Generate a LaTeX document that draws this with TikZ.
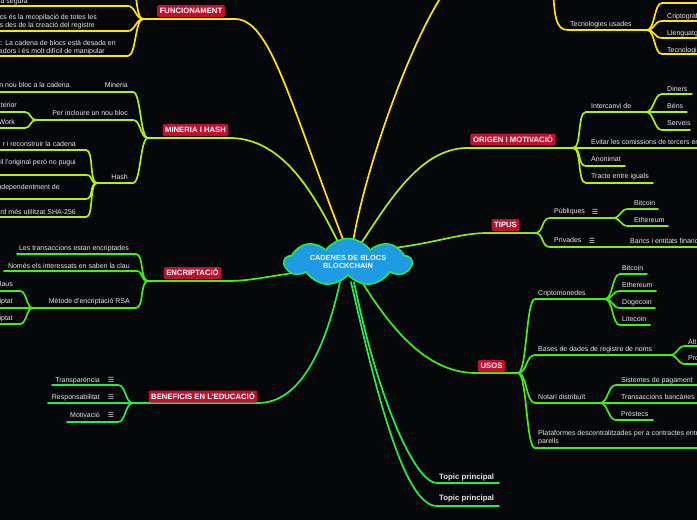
\documentclass[tikz,border=0pt]{standalone}
\usepackage{fontspec}
\setmainfont{Liberation Sans}
\newfontfamily\symfont{DejaVu Sans}
\usetikzlibrary{shapes.symbols,calc}
\definecolor{bgc}{HTML}{050608}
\definecolor{yel}{HTML}{FFE600}
\definecolor{lime}{HTML}{B4EE14}
\definecolor{limeb}{HTML}{88E61A}
\definecolor{grn}{HTML}{44EE12}
\definecolor{grnb}{HTML}{22EE4C}
\definecolor{lblred}{HTML}{C01030}
\definecolor{cloudblue}{HTML}{1E9BE2}
\definecolor{txtc}{HTML}{E8E8E8}
\pgfdeclarelayer{back}
\pgfdeclarelayer{links}
\pgfsetlayers{back,links,main}
\tikzset{
  txtn/.style={inner sep=0pt, text=txtc, font=\fontsize{7}{8.4}\selectfont},
  rt/.style={txtn, anchor=base west},
  lt/.style={txtn, anchor=base east},
  tpc/.style={inner sep=0pt, text=txtc, anchor=base west, font=\bfseries\fontsize{7.8}{9}\selectfont},
  lbl/.style={fill=lblred, rounded corners=1.5pt, text=white, font=\bfseries\fontsize{7.7}{9}\selectfont,
    inner xsep=2.6pt, inner ysep=3.2pt, text height=5.6pt, text depth=0pt},
  icon/.style={inner sep=0pt, text=txtc, font=\symfont\fontsize{7}{8}\selectfont},
  con/.style={line width=1.7pt, line cap=round},
  rc/.style={to path={.. controls +(#1,0) and +(-#1,0) .. (\tikztotarget)}},
  rc/.default=8,
  lc/.style={to path={.. controls +(-#1,0) and +(#1,0) .. (\tikztotarget)}},
  lc/.default=8,
}
\begin{document}
\begin{tikzpicture}[x=1pt,y=-1pt]
\useasboundingbox (0,0) rectangle (697,520);
\begin{pgfonlayer}{back}
\fill[bgc] (-10,-10) rectangle (710,530);
\end{pgfonlayer}

% ---------- central idea ----------
\node[cloud, cloud puffs=9, cloud puff arc=110, cloud ignores aspect, draw=grnb, fill=cloudblue, line width=1.5pt,
  minimum width=127pt, minimum height=47pt, inner sep=0pt, text=white,
  font=\bfseries\fontsize{7.4}{8.4}\selectfont, align=center] (root) at (348,262) {CADENES DE BLOCS\\BLOCKCHAIN};

% ---------- labels ----------
\node[lbl] (fun) at (191,11) {FUNCIONAMENT};
\node[lbl] (min) at (195.5,130) {MINERIA I HASH};
\node[lbl] (enc) at (192.5,273) {ENCRIPTACIÓ};
\node[lbl] (ben) at (203,396.5) {BENEFICIS EN L'EDUCACIÓ};
\node[lbl] (ori) at (513,139.5) {ORIGEN I MOTIVACIÓ};
\node[lbl] (tip) at (505.5,225) {TIPUS};
\node[lbl] (uso) at (491.5,366) {USOS};

% ---------- coordinates ----------
\coordinate (fuE) at (235,19);  \coordinate (fuB) at (143,19);
\coordinate (fu0) at (130,-16); \coordinate (fu1) at (128,6);
\coordinate (fu2) at (128,31);  \coordinate (fu3) at (128,56);
\coordinate (topT) at (447,-12);
\coordinate (teB) at (553,-30); \coordinate (te1) at (568,30); \coordinate (teE) at (647,30);
\coordinate (orS) at (465,148); \coordinate (orB) at (573,148);
\coordinate (intS) at (586,112); \coordinate (intB) at (646,112);
\coordinate (tiS) at (488,233); \coordinate (tiB) at (535,233);
\coordinate (pubS) at (550,218); \coordinate (pubB) at (613,218);
\coordinate (priS) at (550,247);
\coordinate (usS) at (476,373); \coordinate (usB) at (518,373);
\coordinate (criS) at (535,299); \coordinate (criB) at (605,299);
\coordinate (basS) at (535,355); \coordinate (basB) at (670,355);
\coordinate (notS) at (535,403); \coordinate (notB) at (600,403);
\coordinate (plaS) at (535,448);
\coordinate (tp1S) at (437,483); \coordinate (tp1E) at (499,483);
\coordinate (tp2S) at (437,506); \coordinate (tp2E) at (499,506);
\coordinate (beS) at (258,403); \coordinate (beB) at (133,403);
\coordinate (enS) at (228,281); \coordinate (enB) at (148,281);
\coordinate (rsaS) at (136,308); \coordinate (rsaB) at (33,308);
\coordinate (miS) at (232,138); \coordinate (miB) at (148,138);
\coordinate (mnS) at (133,92);
\coordinate (perS) at (133,120); \coordinate (perB) at (36,120);
\coordinate (haS) at (133,183); \coordinate (haB) at (97,183);

% ---------- connectors ----------
\begin{pgfonlayer}{links}
% FUNCIONAMENT
\draw[con,yel] ($(root)+(-4,-20)$) .. controls (289,100) and (270,19) .. (fuE) -- (fuB);
\draw[con,yel] (fuB) to[lc=8] (fu0) -- ++(-140,0);
\draw[con,yel] (fuB) to[lc=7] (fu1) -- ++(-140,0);
\draw[con,yel] (fuB) to[lc=7] (fu2) -- ++(-140,0);
\draw[con,yel] (fuB) to[lc=8] (fu3) -- ++(-140,0);
% top topic (off-screen)
\draw[con,yel] ($(root)+(5,-20)$) .. controls (365,170) and (410,40) .. (topT);
\draw[con,yel] (teB) .. controls (553,18) and (556,30) .. (te1) -- (teE);
\draw[con,yel] (teE) to[rc=8] (662,3) -- (705,3);
\draw[con,yel] (teE) to[rc=8] (662,21) -- (705,21);
\draw[con,yel] (teE) to[rc=8] (662,38) -- (705,38);
\draw[con,yel] (teE) to[rc=8] (662,54) -- (705,54);
% ORIGEN
\draw[con,lime] ($(root)+(14,-20)$) .. controls (390,200) and (420,150) .. (orS) -- (orB);
\draw[con,lime] (orB) to[rc=9] (intS) -- (intB);
\draw[con,lime] (intB) to[rc=8] (662,94) -- (692,94);
\draw[con,lime] (intB) -- (687,112);
\draw[con,lime] (intB) to[rc=8] (662,130) -- (690,130);
\draw[con,lime] (orB) -- (705,148);
\draw[con,lime] (orB) to[rc=9] (586,166) -- (625,166);
\draw[con,lime] (orB) to[rc=9] (586,183) -- (653,183);
% TIPUS
\draw[con,limeb] ($(root)+(46,-14)$) .. controls (440,242) and (460,233) .. (tiS) -- (tiB);
\draw[con,limeb] (tiB) to[rc=9] (pubS) -- (pubB);
\draw[con,limeb] (pubB) to[rc=8] (628,209) -- (658,209);
\draw[con,limeb] (pubB) to[rc=8] (628,226) -- (668,226);
\draw[con,limeb] (tiB) to[rc=9] (priS) -- (705,247);
% USOS
\draw[con,grn] ($(root)+(14,20)$) .. controls (395,335) and (430,373) .. (usS) -- (usB);
\draw[con,grn] (usB) to[rc=9] (criS) -- (criB);
\draw[con,grn] (criB) to[rc=8] (620,274) -- (647,274);
\draw[con,grn] (criB) to[rc=8] (620,291) -- (656,291);
\draw[con,grn] (criB) to[rc=8] (620,308) -- (655,308);
\draw[con,grn] (criB) to[rc=8] (620,325) -- (650,325);
\draw[con,grn] (usB) to[rc=9] (basS) -- (basB);
\draw[con,grn] (basB) to[rc=8] (685,346) -- (705,346);
\draw[con,grn] (basB) to[rc=8] (685,364) -- (705,364);
\draw[con,grn] (usB) to[rc=9] (notS) -- (notB);
\draw[con,grn] (notB) to[rc=8] (616,385) -- (705,385);
\draw[con,grn] (notB) -- (705,403);
\draw[con,grn] (notB) to[rc=8] (616,420) -- (653,420);
\draw[con,grn] (usB) to[rc=9] (plaS) -- (705,448);
% Topic principal
\draw[con,grnb] ($(root)+(6,20)$) .. controls (378,400) and (415,483) .. (tp1S) -- (tp1E);
\draw[con,grnb] ($(root)+(3,20)$) .. controls (378,400) and (405,506) .. (tp2S) -- (tp2E);
% BENEFICIS
\draw[con,grnb] ($(root)+(-8,20)$) .. controls (325,350) and (300,403) .. (beS) -- (beB);
\draw[con,grnb] (beB) to[lc=8] (118,385) -- (52,385);
\draw[con,grnb] (beB) -- (48,403);
\draw[con,grnb] (beB) to[lc=8] (118,422) -- (67,422);
% ENCRIPTACIO
\draw[con,grn] ($(root)+(-48,10)$) .. controls (270,276) and (250,281) .. (enS) -- (enB);
\draw[con,grn] (enB) to[lc=8] (136,254) -- (17,254);
\draw[con,grn] (enB) to[lc=8] (136,271) -- (4,271);
\draw[con,grn] (enB) to[lc=8] (rsaS) -- (rsaB);
\draw[con,grn] (rsaB) to[lc=7] (20,291) -- (-5,291);
\draw[con,grn] (rsaB) -- (-5,308);
\draw[con,grn] (rsaB) to[lc=7] (20,324) -- (-5,324);
% MINERIA
\draw[con,lime] ($(root)+(-10,-20)$) .. controls (310,185) and (280,140) .. (miS) -- (miB);
\draw[con,lime] (miB) to[lc=8] (mnS) -- (-5,92);
\draw[con,lime] (miB) to[lc=8] (perS) -- (perB);
\draw[con,lime] (perB) to[lc=6] (25,112) -- (-5,112);
\draw[con,lime] (perB) to[lc=6] (25,128) -- (-5,128);
\draw[con,lime] (miB) to[lc=8] (haS) -- (haB);
\draw[con,lime] (haB) to[lc=8] (86,150) -- (-5,150);
\draw[con,lime] (haB) to[lc=8] (86,175) -- (-5,175);
\draw[con,lime] (haB) to[lc=8] (86,199) -- (-5,199);
\draw[con,lime] (haB) to[lc=8] (86,217) -- (-5,217);
\end{pgfonlayer}

% ---------- texts: FUNCIONAMENT ----------
\node[lt] (f1) at (28,3.5) {a segura};
\node[lt] (f2a) at (97,19.5) {cs és la recopilació de totes les};
\node[lt] (f2b) at (95,27.5) {s des de la creació del registre};
\node[lt] (f3a) at (116,45.5) {t: La cadena de blocs està desada en};
\node[lt] (f3b) at (105,53.5) {adors i és molt difícil de manipular};
% top topic
\node[rt] (tu) at (570,26) {Tecnologies usades};
\node[rt] (tu1) at (667,0.5) {Matemàt};
\node[rt] (tu2) at (667,18) {Criptograf};
\node[rt] (tu3) at (667,35) {Llenguatg};
\node[rt] (tu4) at (667,52) {Tecnologi};
% ORIGEN
\node[rt] (o1) at (591,108.5) {Intercanvi de};
\node[rt] (o1a) at (667,91.5) {Diners};
\node[rt] (o1b) at (667,108.5) {Béns};
\node[rt] (o1c) at (667,125.5) {Serveis};
\node[rt] (o2) at (591,144.5) {Evitar les comissions de tercers en};
\node[rt] (o3) at (591,161.5) {Anonimat};
\node[rt] (o4) at (591,178.5) {Tracte entre iguals};
% TIPUS
\node[rt] (t1) at (554,213.5) {Públiques};
\node[icon] (t1i) at (595,212) {☰};
\node[rt] (t1a) at (634,205.5) {Bitcoin};
\node[rt] (t1b) at (634,222.5) {Ethereum};
\node[rt] (t2) at (554,242.5) {Privades};
\node[icon] (t2i) at (592,241) {☰};
\node[rt] (t2a) at (630,243.5) {Bancs i entitats financ};
% USOS
\node[rt] (u1) at (538,295.5) {Criptomonedes};
\node[rt] (u1a) at (622,270.5) {Bitcoin};
\node[rt] (u1b) at (622,287.5) {Ethereum};
\node[rt] (u1c) at (622,304.5) {Dogecoin};
\node[rt] (u1d) at (622,321.5) {Litecoin};
\node[rt] (u2) at (538,351.5) {Bases de dades de registre de noms};
\node[rt] (u2a) at (688,344) {Alt};
\node[rt] (u2b) at (688,360.5) {Pro};
\node[rt] (u3) at (538,399.5) {Notari distribuït};
\node[rt] (u3a) at (621,382.5) {Sistemes de pagament};
\node[rt] (u3b) at (621,399.5) {Transaccions bancàries};
\node[rt] (u3c) at (621,416.5) {Préstecs};
\node[rt] (u4a) at (538,435.5) {Plataformes descentralitzades per a contractes entre};
\node[rt] (u4b) at (538,443.5) {parells};
% Topic principal
\node[tpc] (tp1) at (439,479.5) {Topic principal};
\node[tpc] (tp2) at (439,500.5) {Topic principal};
% BENEFICIS
\node[lt] (b1) at (100,382.5) {Transparència};
\node[icon] (b1i) at (111,380) {☰};
\node[lt] (b2) at (100,399.5) {Responsabilitat};
\node[icon] (b2i) at (111,397) {☰};
\node[lt] (b3) at (100,417.5) {Motivació};
\node[icon] (b3i) at (111,415) {☰};
% ENCRIPTACIO
\node[lt] (e1) at (129,250.5) {Les transaccions estan encriptades};
\node[lt] (e2) at (130,268.5) {Només els interessats en saben la clau};
\node[lt] (e3) at (130,303.5) {Mètode d'encriptació RSA};
\node[lt] (e3a) at (13,286.5) {laus};
\node[lt] (e3b) at (13,303.5) {iptat};
\node[lt] (e3c) at (13,320.5) {iptat};
% MINERIA
\node[lt] (m1) at (128,87.5) {Mineria};
\node[lt] (m1a) at (70,87.5) {n nou bloc a la cadena};
\node[lt] (m2) at (128,115.5) {Per incloure un nou bloc};
\node[lt] (m2a) at (17,107.5) {terior};
\node[lt] (m2b) at (15,124.5) {Work};
\node[lt] (m3) at (128,179.5) {Hash};
\node[lt] (m3a) at (76,146.5) {r i reconstruir la cadena};
\node[lt] (m3b) at (76,164.5) {til l'original però no pugui};
\node[lt] (m3c) at (60,189.5) {ndependentment de};
\node[lt] (m3d) at (76,214.5) {rd més utilitzat SHA-256};
\end{tikzpicture}
\end{document}
